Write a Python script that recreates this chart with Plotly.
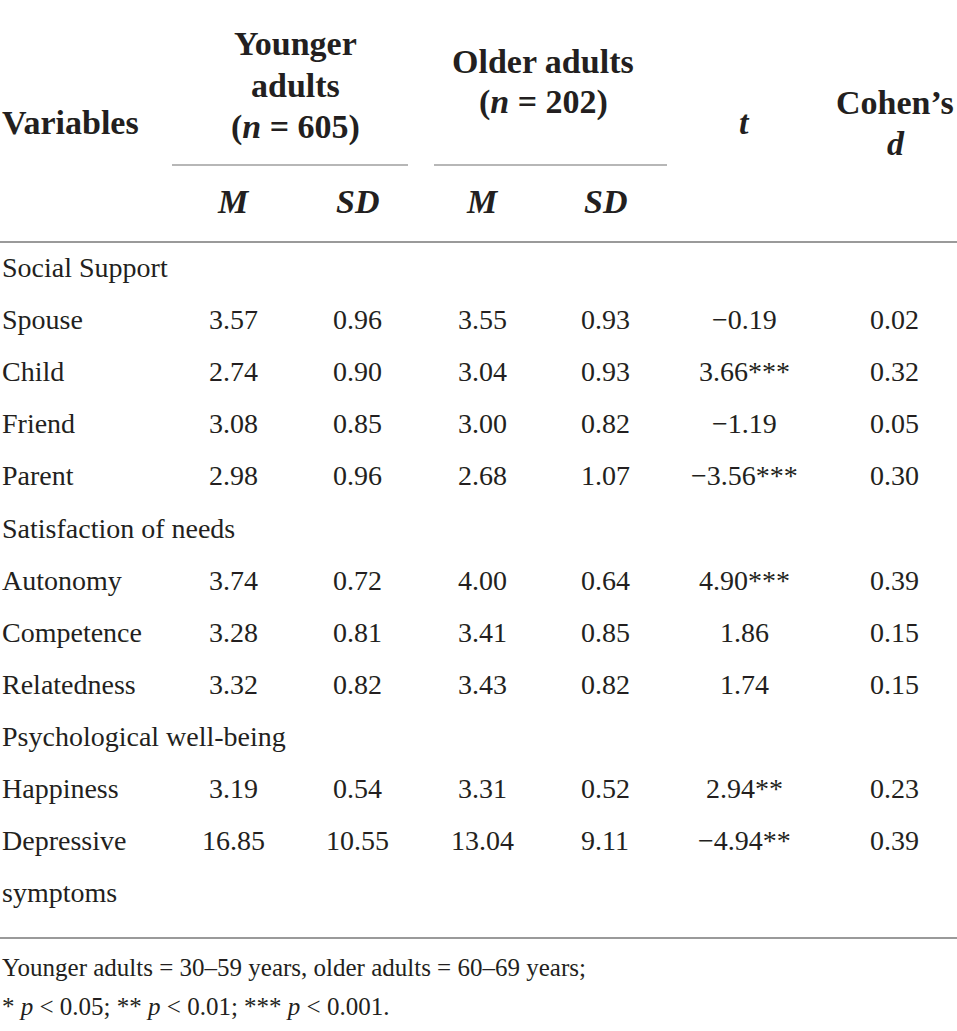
import plotly.graph_objects as go

# ---- data ----
variables = ["Social Support", "Spouse", "Child", "Friend", "Parent",
             "Satisfaction of needs", "Autonomy", "Competence", "Relatedness",
             "Psychological well-being", "Happiness", "Depressive", "symptoms"]
young_M = [None, 3.57, 2.74, 3.08, 2.98, None, 3.74, 3.28, 3.32, None, 3.19, 16.85, None]
young_SD = [None, 0.96, 0.90, 0.85, 0.96, None, 0.72, 0.81, 0.82, None, 0.54, 10.55, None]
old_M = [None, 3.55, 3.04, 3.00, 2.68, None, 4.00, 3.41, 3.43, None, 3.31, 13.04, None]
old_SD = [None, 0.93, 0.93, 0.82, 1.07, None, 0.64, 0.85, 0.82, None, 0.52, 9.11, None]
t_vals = [None, -0.19, 3.66, -1.19, -3.56, None, 4.90, 1.86, 1.74, None, 2.94, -4.94, None]
t_sig = ["", "", "***", "", "***", "", "***", "", "", "", "**", "**", ""]
d_vals = [None, 0.02, 0.32, 0.05, 0.30, None, 0.39, 0.15, 0.15, None, 0.23, 0.39, None]

group_labels = [["Younger", "adults", "(<i>n</i> = 605)"], ["Older adults", "(<i>n</i> = 202)"]]
sub_labels = ["<i>M</i>", "<i>SD</i>", "<i>M</i>", "<i>SD</i>"]
note_lines = ["Younger adults = 30–59 years, older adults = 60–69 years;",
              "* <i>p</i> < 0.05; ** <i>p</i> < 0.01; *** <i>p</i> < 0.001."]

# ---- layout constants ----
W, H = 957, 1031
TXT = "#231f20"
RULE_THIN = "#707070"
RULE = "#9a9a9a"
FONT = "Liberation Serif"
row_y0, row_h = 267.5, 52.1
col_x = [233, 357, 482, 605, 744, 894]
body_size = 28
head_size = 34
note_size = 25


def fmt(v):
    if v is None:
        return ""
    s = f"{v:.2f}"
    return s.replace("-", "−")


fig = go.Figure()
ann = []


def add(x, y, text, size=body_size, anchor="center", bold=False):
    t = f"<b>{text}</b>" if bold else text
    ann.append(dict(x=x, y=y, xref="x", yref="y", text=t, showarrow=False,
                    xanchor=anchor, yanchor="middle",
                    font=dict(family=FONT, size=size, color=TXT)))

# header
add(0, 122, "Variables", head_size, "left", True)
for i, line in enumerate(group_labels[0]):
    add(295, 43 + i * 42, line, head_size, bold=True)
for i, line in enumerate(group_labels[1]):
    add(543, 61 + i * 41, line, head_size, bold=True)
add(744, 122, "<i>t</i>", head_size, bold=True)
add(895, 102, "Cohen’s", head_size, bold=True)
add(896, 143, "<i>d</i>", head_size, bold=True)
for x, lab in zip(col_x[:4], sub_labels):
    add(x, 201, lab, head_size, bold=True)

# body
for i, name in enumerate(variables):
    y = row_y0 + i * row_h
    add(0, y, name, body_size, "left")
    cols = [fmt(young_M[i]), fmt(young_SD[i]), fmt(old_M[i]), fmt(old_SD[i]),
            fmt(t_vals[i]) + t_sig[i], fmt(d_vals[i])]
    for x, txt in zip(col_x, cols):
        if txt:
            add(x, y, txt, body_size)

# footnote
add(0, 967, note_lines[0], note_size, "left")
add(0, 1006, note_lines[1], note_size, "left")

shapes = [
    dict(type="line", xref="x", yref="y", x0=172, x1=408, y0=165, y1=165, line=dict(color=RULE_THIN, width=1.2)),
    dict(type="line", xref="x", yref="y", x0=434, x1=667, y0=165, y1=165, line=dict(color=RULE_THIN, width=1.2)),
    dict(type="line", xref="x", yref="y", x0=0, x1=W, y0=242, y1=242, line=dict(color=RULE, width=2)),
    dict(type="line", xref="x", yref="y", x0=0, x1=W, y0=938, y1=938, line=dict(color=RULE, width=2)),
]

fig.update_layout(
    width=W, height=H, margin=dict(l=0, r=0, t=0, b=0),
    paper_bgcolor="white", plot_bgcolor="white",
    xaxis=dict(range=[0, W], visible=False, fixedrange=True),
    yaxis=dict(range=[H, 0], visible=False, fixedrange=True),
    annotations=ann, shapes=shapes, showlegend=False,
)
fig.write_html("out.html", config={"displayModeBar": False},
               post_script="document.body.style.margin='0';document.body.style.padding='0';document.body.style.overflow='hidden';")
